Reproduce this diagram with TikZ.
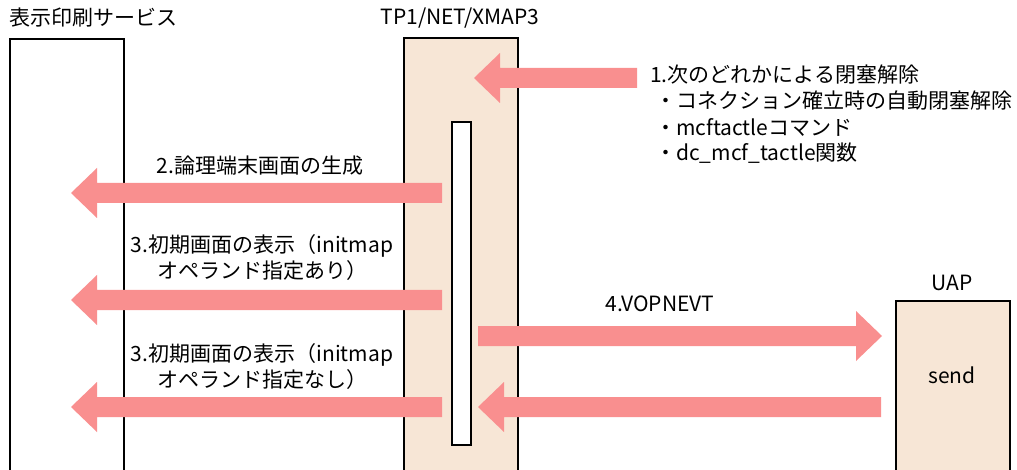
\documentclass[tikz,border=0pt]{standalone}
\usepackage{fontspec}
\setmainfont{Noto Sans CJK JP}
\usetikzlibrary{calc}
\definecolor{arrowc}{RGB}{249,143,143}
\definecolor{peach}{RGB}{247,230,214}
\tikzset{
  lane/.style={draw=black, line width=1.6pt, anchor=north west, inner sep=0pt},
  lbl/.style={inner sep=0pt, font=\fontsize{21pt}{26pt}\selectfont, align=center},
  lbll/.style={lbl, align=left, anchor=west},
}
\newcommand\blockarrow[2]{%
  \fill[arrowc] let \p1=(#1), \p2=(#2), \n1={sign(\x2-\x1)} in
    (\x1,\y1+10pt) -- (\x2-\n1*26pt,\y1+10pt) -- (\x2-\n1*26pt,\y1+25pt) --
    (\x2,\y1) -- (\x2-\n1*26pt,\y1-25pt) -- (\x2-\n1*26pt,\y1-10pt) --
    (\x1,\y1-10pt) -- cycle;}
\begin{document}
\begin{tikzpicture}[x=1pt,y=-1pt]
\useasboundingbox (0,0) rectangle (1017,470);
% lanes
\node[lane, fill=white, minimum width=114pt, minimum height=445pt] (ps) at (9,38) {};
\node[lane, fill=peach, minimum width=114pt, minimum height=445pt] (tp) at (403,37) {};
\node[lane, fill=white, minimum width=19pt, minimum height=323pt] (bar) at (451,121) {};
\node[lane, fill=peach, minimum width=114pt, minimum height=180pt] (uap) at (895,300) {};
% titles
\node[lbll] (tps) at (9,18) {表示印刷サービス};
\node[lbl] (ttp) at (460,18) {TP1/NET/XMAP3};
\node[lbl] (tuap) at (952,283) {UAP};
\node[lbl] (send) at (952,375) {send};
% arrow end points
\coordinate (a1s) at (637,78);  \coordinate (a1t) at (474,78);
\coordinate (a2s) at (442,193); \coordinate (a2t) at (71,193);
\coordinate (a3s) at (442,300); \coordinate (a3t) at (71,300);
\coordinate (a4s) at (478,336); \coordinate (a4t) at (882,336);
\coordinate (a5s) at (442,407); \coordinate (a5t) at (71,407);
\coordinate (a6s) at (881,407); \coordinate (a6t) at (478,407);
\blockarrow{a1s}{a1t}
\blockarrow{a2s}{a2t}
\blockarrow{a3s}{a3t}
\blockarrow{a4s}{a4t}
\blockarrow{a5s}{a5t}
\blockarrow{a6s}{a6t}
% labels
\node[lbll] (l1) at (650,75) {1.次のどれかによる閉塞解除};
\node[lbll] (l1a) at (655,101) {・コネクション確立時の自動閉塞解除};
\node[lbll] (l1b) at (655,127) {・mcftactleコマンド};
\node[lbll] (l1c) at (655,153) {・dc\_mcf\_tactle関数};
\node[lbl] (l2) at (260,166) {2.論理端末画面の生成};
\node[lbl] (l3) at (262,258) {3.初期画面の表示（initmap\\オペランド指定あり）};
\node[lbl] (l4) at (262,367) {3.初期画面の表示（initmap\\オペランド指定なし）};
\node[lbl] (l5) at (660,304) {4.VOPNEVT};
\end{tikzpicture}
\end{document}
